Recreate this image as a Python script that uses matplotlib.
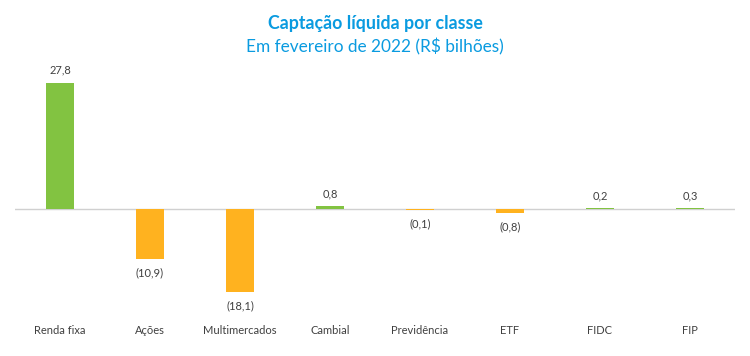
import matplotlib
matplotlib.use('Agg')
import matplotlib.pyplot as plt
import numpy as np

categories = ['Renda fixa', 'Ações', 'Multimercados', 'Cambial', 'Previdência', 'ETF', 'FIDC', 'FIP']
values = [27.8, -10.9, -18.1, 0.8, -0.1, -0.8, 0.2, 0.3]

GREEN = '#82c341'
ORANGE = '#ffb21f'
BLUE = '#0a9be0'
TXT = '#404040'

plt.rcParams['font.family'] = ['Lato', 'DejaVu Sans']

fig = plt.figure(figsize=(7.5, 3.56), dpi=100)
ax = fig.add_axes([0.02, 0.098, 0.96, 0.73])

x = np.arange(len(categories))
colors = [GREEN if v >= 0 else ORANGE for v in values]
ax.bar(x, values, width=0.31, color=colors, zorder=2)
ax.axhline(0, color='#d0d0d0', linewidth=1.0, zorder=1)

for xi, v in zip(x, values):
    s = '{:.1f}'.format(abs(v)).replace('.', ',')
    if v >= 0:
        ax.text(xi, v + 1.5, s, ha='center', va='bottom', fontsize=8, color=TXT)
    else:
        ax.text(xi, v - 1.8, '(' + s + ')', ha='center', va='top', fontsize=8, color=TXT)

ax.set_xlim(-0.5, len(categories) - 0.5)
ax.set_ylim(-24.5, 32.5)
ax.set_xticks(x)
ax.set_xticklabels(categories, fontsize=8, color=TXT)
ax.tick_params(axis='x', length=0, pad=3)
ax.set_yticks([])
for sp in ax.spines.values():
    sp.set_visible(False)

fig.text(0.5, 0.935, 'Captação líquida por classe', ha='center', va='center',
         fontsize=12.8, fontweight='bold', color=BLUE)
fig.text(0.5, 0.868, 'Em fevereiro de 2022 (R$ bilhões)', ha='center', va='center',
         fontsize=12.4, color=BLUE)

fig.savefig('out.png', dpi=100)
